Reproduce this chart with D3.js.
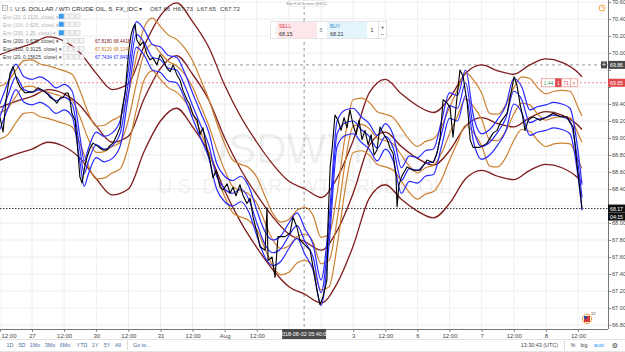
<!DOCTYPE html>
<html>
<head>
<meta charset="utf-8">
<script src="https://d3js.org/d3.v7.min.js"></script>
<style>
  body { margin: 0; background: #fff; }
  svg { display: block; font-family: "Liberation Sans", Arial, sans-serif; }
</style>
</head>
<body>
<svg width="625" height="352"></svg>
<script>
// trading hours counted from Jul 27 00:00 (weekend gap removed)
const priceTimes = [
  -12.0,-10.8,-9.7,-8.2,-7.1,-5.6,-4.5,-2.6,-0.7,0.4,
  2.2,4.1,6.0,6.7,8.2,9.3,10.5,11.6,12.7,13.5,
  14.2,14.9,16.1,16.8,17.9,18.7,19.8,20.6,21.7,22.8,
  24.3,25.4,26.5,28.0,29.1,30.3,31.8,32.9,33.6,34.8,
  35.5,36.2,37.0,37.7,38.5,39.2,40.4,41.5,43.0,44.1,
  45.2,46.7,47.8,49.0,50.4,51.6,52.7,54.2,55.3,56.4,
  57.9,59.0,60.2,61.7,62.8,63.9,65.4,66.5,67.6,68.8,
  70.3,71.4,72.9,74.0,75.1,76.2,77.7,78.8,80.3,81.5,
  82.6,84.1,85.2,87.1,87.8,88.2,89.7,90.8,91.9,94.5,
  96.4,97.5,99.0,100.1,102.0,103.9,105.0,106.5,107.6,108.7,
  110.2,110.6,111.4,112.1,113.2,114.3,115.5,116.6,117.7,118.8,
  120.0,121.1,122.2,123.3,124.4,125.6,126.7,127.8,128.9,130.0,
  131.5,132.7,133.8,134.9,136.0,136.4,137.1,138.3,140.1,142.4,
  145.0,147.6,149.9,151.3,152.5,153.6,155.1,156.2,157.3,158.8,
  159.9,161.1,162.6,163.7,164.8,167.4,170.0,172.3,173.8,174.9,
  177.5,179.4,180.1,181.2,182.4,183.1,184.2,185.4,187.2,189.8,
  192.5,194.7,197.3,199.9,201.0,202.2,203.7,204.8,205.5
];
const priceValues = [
  69.25,69.07,69.45,69.76,69.84,69.68,69.60,69.53,69.54,69.54,
  69.59,69.56,69.51,69.48,69.45,69.41,69.47,69.48,69.53,69.53,
  69.45,69.29,69.21,68.98,68.54,68.47,68.68,68.78,68.88,68.94,
  68.91,68.88,68.86,68.86,68.91,68.94,69.04,69.13,69.33,69.53,
  69.80,70.04,70.21,70.29,70.34,70.15,70.09,70.13,69.98,69.92,
  69.94,69.86,69.98,69.92,69.82,69.78,69.86,69.74,69.68,69.56,
  69.45,69.39,69.27,69.21,69.04,69.12,68.86,68.74,68.53,68.62,
  68.42,68.39,68.46,68.35,68.42,68.32,68.45,68.33,68.23,68.29,
  68.07,67.88,67.72,67.68,68.18,67.56,67.60,67.36,67.84,67.84,
  67.88,68.07,67.95,67.80,67.74,67.68,67.48,67.21,67.04,67.13,
  67.33,68.00,68.66,68.86,69.27,69.21,69.09,69.24,69.12,69.33,
  69.15,69.04,69.21,68.98,69.09,68.92,69.04,68.80,68.86,69.13,
  69.04,68.98,68.88,68.82,68.56,68.19,68.45,68.56,68.66,68.62,
  68.62,68.74,68.71,68.82,69.01,69.45,69.41,69.36,69.01,69.48,
  69.80,69.72,69.41,68.98,68.89,68.89,68.94,69.06,69.09,69.18,
  69.29,69.60,69.72,69.62,69.39,69.29,69.09,69.21,69.25,69.21,
  69.25,69.29,69.25,69.25,69.18,69.13,68.66,68.38,68.17
];

// Env (20, 0.15625) - blue
const blueTimes = [
  -12,-9,-6,-3,0,3,6,9,12,15,
  18,19.5,21,24,27,30,33,36,39,42,45,
  48,51,54,57,60,63,66,69,72,75,
  78,81,84,87,90,93,96,99,102,105,
  108,111,114,117,120,123,126,129,132,135,
  138,141,144,147,150,153,156,159,162,165,
  168,171,174,177,180,183,186,189,192,195,
  198,201,204,205.5
];
const blueMid = [
  69.25,69.50,69.72,69.57,69.54,69.57,69.52,69.44,69.48,69.40,
  68.85,68.58,68.72,68.92,68.87,68.91,69.06,69.65,70.22,70.12,69.95,
  69.92,69.82,69.80,69.62,69.38,69.15,68.92,68.55,68.40,68.35,
  68.40,68.28,68.00,67.75,67.65,67.70,67.85,67.97,67.78,67.60,
  67.18,67.90,69.05,69.18,69.20,69.10,69.02,68.88,69.02,68.88,
  68.50,68.64,68.62,68.70,68.72,69.05,69.38,69.35,69.65,69.10,
  68.90,68.95,69.07,69.23,69.55,69.45,69.18,69.22,69.24,69.27,
  69.25,69.20,68.70,68.30
];
const blueUpper = [
  69.40,69.65,69.87,69.72,69.69,69.72,69.67,69.59,69.63,69.55,
  69.00,68.73,68.87,69.07,69.02,69.06,69.21,69.80,70.37,70.27,70.10,
  70.07,69.97,69.95,69.77,69.53,69.30,69.07,68.70,68.55,68.50,
  68.55,68.43,68.15,67.90,67.80,67.85,68.00,68.12,67.93,67.75,
  67.33,68.05,69.20,69.33,69.35,69.25,69.17,69.03,69.17,69.03,
  68.65,68.79,68.77,68.85,68.87,69.20,69.53,69.50,69.80,69.25,
  69.05,69.10,69.22,69.38,69.70,69.60,69.33,69.37,69.39,69.42,
  69.40,69.35,68.85,68.45
];
const blueLower = [
  69.10,69.35,69.57,69.42,69.39,69.42,69.37,69.29,69.33,69.25,
  68.70,68.43,68.57,68.77,68.72,68.76,68.91,69.50,70.07,69.97,69.80,
  69.77,69.67,69.65,69.47,69.23,69.00,68.77,68.40,68.25,68.20,
  68.25,68.13,67.85,67.60,67.50,67.55,67.70,67.82,67.63,67.45,
  67.03,67.75,68.90,69.03,69.05,68.95,68.87,68.73,68.87,68.73,
  68.35,68.49,68.47,68.55,68.57,68.90,69.23,69.20,69.50,68.95,
  68.75,68.80,68.92,69.08,69.40,69.30,69.03,69.07,69.09,69.12,
  69.10,69.05,68.55,68.15
];

// Env (100, 0.3125) - orange, every 3h
const orangeTimes = d3.range(-12, 205, 3).concat([205.5]);
const orangeMid = [
  69.30,69.35,69.49,69.60,69.61,69.56,69.54,69.51,69.48,69.44,
  69.24,68.99,68.83,68.84,68.90,68.95,69.21,69.64,70.00,70.10,
  70.00,69.90,69.85,69.75,69.60,69.38,69.15,68.87,68.62,68.43,
  68.38,68.34,68.23,68.01,67.80,67.70,67.73,67.84,67.87,67.78,
  67.52,67.56,68.04,68.71,69.14,69.16,69.11,69.00,68.97,68.93,
  68.80,68.67,68.59,68.65,68.68,68.82,69.05,69.26,69.46,69.37,
  69.22,68.98,68.97,69.08,69.28,69.41,69.39,69.28,69.21,69.24,
  69.25,69.24,69.05,68.95
];
const orangeUpper = [
  69.61,69.66,69.80,69.91,69.92,69.87,69.85,69.82,69.79,69.75,
  69.55,69.30,69.14,69.15,69.21,69.26,69.52,69.95,70.31,70.41,
  70.31,70.21,70.16,70.06,69.91,69.69,69.46,69.18,68.93,68.74,
  68.69,68.65,68.54,68.32,68.11,68.01,68.04,68.15,68.18,68.09,
  67.83,67.87,68.35,69.02,69.45,69.47,69.42,69.31,69.28,69.24,
  69.11,68.98,68.90,68.96,68.99,69.13,69.36,69.57,69.77,69.68,
  69.53,69.29,69.28,69.39,69.59,69.72,69.70,69.59,69.52,69.55,
  69.56,69.55,69.36,69.26
];
const orangeLower = [
  68.99,69.04,69.18,69.29,69.30,69.25,69.23,69.20,69.17,69.13,
  68.93,68.68,68.52,68.53,68.59,68.64,68.90,69.33,69.69,69.79,
  69.69,69.59,69.54,69.44,69.29,69.07,68.84,68.56,68.31,68.12,
  68.07,68.03,67.92,67.70,67.49,67.39,67.42,67.53,67.56,67.47,
  67.21,67.25,67.73,68.40,68.83,68.85,68.80,68.69,68.66,68.62,
  68.49,68.36,68.28,68.34,68.37,68.51,68.74,68.95,69.15,69.06,
  68.91,68.67,68.66,68.77,68.97,69.10,69.08,68.97,68.90,68.93,
  68.94,68.93,68.74,68.64
];

// Env (200, 0.625) - maroon, every 6h
const maroonTimes = d3.range(-12, 205, 6).concat([205.5]);
const maroonMid = [
  69.36,69.43,69.49,69.57,69.52,69.38,69.14,68.95,69.02,69.47,
  69.82,69.97,69.75,69.45,69.00,68.63,68.33,68.07,67.87,67.78,
  67.68,67.91,68.35,68.91,69.07,68.90,68.76,68.68,68.85,69.14,
  69.24,69.17,69.13,69.24,69.31,69.27,69.15,69.10
];
const maroonUpper = [
  69.98,70.05,70.11,70.19,70.14,70.00,69.76,69.57,69.64,70.09,
  70.44,70.59,70.37,70.07,69.62,69.25,68.95,68.69,68.49,68.40,
  68.30,68.53,68.97,69.53,69.69,69.52,69.38,69.30,69.47,69.76,
  69.86,69.79,69.75,69.86,69.93,69.89,69.77,69.72
];
const maroonLower = [
  68.74,68.81,68.87,68.95,68.90,68.76,68.52,68.33,68.40,68.85,
  69.20,69.35,69.13,68.83,68.38,68.01,67.71,67.45,67.25,67.16,
  67.06,67.29,67.73,68.29,68.45,68.28,68.14,68.06,68.23,68.52,
  68.62,68.55,68.51,68.62,68.69,68.65,68.53,68.48
];

const timeTicks = d3.range(-12, 205, 12);
const timeLabels = ["12:00","27","12:00","30","12:00","31","12:00","Aug","12:00","2",
                    "12:00","3","12:00","6","12:00","7","12:00","8","12:00"];
const priceTicks = d3.range(0, 20).map(i => 66.8 + i * 0.2);

const legendRows = [
  {name: "Env (20, 0.3125, close)", hidden: true},
  {name: "Env (100, 0.625, close)", hidden: true},
  {name: "Env (200, 1.25, close)", hidden: true},
  {name: "Env (200, 0.625, close)", values: ["67.8180", "68.4418"], color: "#7f1d1d"},
  {name: "Env (100, 0.3125, close)", values: ["67.8129", "68.1249"], color: "#cc8030"},
  {name: "Env (20, 0.15625, close)", values: ["67.7434", "67.8492"], color: "#2a2aff"}
];
const ohlc = ["O67.66", "H67.73", "L67.65", "C67.72"];
const lastPrice = 68.17;
const crossTime = 101.67, crossPrice = 69.86, orderPrice = 69.65;

const svg = d3.select("svg");
const plotW = 608, plotH = 329;
const x = d3.scaleLinear().domain([0, 204]).range([32, 578]);
const y = d3.scaleLinear().domain([66.8, 70.6]).range([325, 2]);

svg.append("defs").append("clipPath").attr("id", "plot")
  .append("rect").attr("width", plotW).attr("height", plotH);

// grid
const grid = svg.append("g");
grid.selectAll(".gv").data(timeTicks).join("line")
  .attr("x1", d => x(d)).attr("x2", d => x(d)).attr("y1", 0).attr("y2", plotH)
  .attr("stroke", "#eeeeee");
grid.selectAll(".gh").data(priceTicks).join("line")
  .attr("x1", 0).attr("x2", plotW).attr("y1", d => y(d)).attr("y2", d => y(d))
  .attr("stroke", "#eeeeee");

// watermark
svg.append("text").text("USDWTI, 5")
  .attr("x", plotW / 2).attr("y", 163).attr("text-anchor", "middle")
  .attr("font-size", 42).attr("fill", "#000").attr("fill-opacity", 0.07);
svg.append("text").text("U.S. DOLLAR / WTI CRUDE OIL")
  .attr("x", plotW / 2).attr("y", 193).attr("text-anchor", "middle")
  .attr("font-size", 20).attr("fill", "#000").attr("fill-opacity", 0.07);

// helper lines
const g = svg.append("g").attr("clip-path", "url(#plot)");
g.append("line").attr("x1", 0).attr("x2", plotW).attr("y1", y(orderPrice)).attr("y2", y(orderPrice))
  .attr("stroke", "#f08a8a").attr("stroke-dasharray", "2,2");
g.append("line").attr("x1", 0).attr("x2", plotW).attr("y1", y(crossPrice)).attr("y2", y(crossPrice))
  .attr("stroke", "#9a9a9a").attr("stroke-dasharray", "3,3");
g.append("line").attr("x1", x(crossTime)).attr("x2", x(crossTime)).attr("y1", 0).attr("y2", plotH)
  .attr("stroke", "#9a9a9a").attr("stroke-dasharray", "3,3");

function drawLine(times, values, color, width, curve) {
  const line = d3.line().x((d, i) => x(times[i])).y(d => y(d)).curve(curve);
  g.append("path").datum(values).attr("d", line)
    .attr("fill", "none").attr("stroke", color).attr("stroke-width", width)
    .attr("stroke-linejoin", "round");
}
const smooth = d3.curveMonotoneX;
[maroonUpper, maroonMid, maroonLower].forEach(v => drawLine(maroonTimes, v, "#7f1d1d", 1.3, smooth));
[orangeUpper, orangeMid, orangeLower].forEach(v => drawLine(orangeTimes, v, "#cc8030", 1.2, smooth));
[blueUpper, blueMid, blueLower].forEach(v => drawLine(blueTimes, v, "#2a2aff", 1.2, smooth));
drawLine(priceTimes, priceValues, "#000", 1.1, d3.curveLinear);

g.append("line").attr("x1", 0).attr("x2", plotW).attr("y1", y(lastPrice)).attr("y2", y(lastPrice))
  .attr("stroke", "#333").attr("stroke-dasharray", "1.5,1.5");

// time axis (labels under the crosshair tag are hidden, as on the chart)
const crossX = x(crossTime);
const xAxisG = svg.append("g").attr("transform", `translate(0,${plotH})`)
  .call(d3.axisBottom(x).tickValues(timeTicks).tickFormat((d, i) => timeLabels[i]).tickSize(3).tickSizeOuter(0));
xAxisG.select(".domain").remove();
xAxisG.selectAll(".tick line").attr("stroke", "#888");
xAxisG.selectAll(".tick text").attr("font-size", 6).attr("fill", "#444").attr("dy", "0.5em")
  .attr("font-family", "Liberation Sans, Arial, sans-serif")
  .attr("display", d => Math.abs(x(d) - crossX) < 34 ? "none" : null)
  .attr("text-anchor", d => x(d) < 8 ? "start" : "middle")
  .attr("x", d => x(d) < 8 ? 1 - x(d) : 0);
svg.append("line").attr("x1", 0).attr("x2", plotW).attr("y1", plotH + 0.5).attr("y2", plotH + 0.5).attr("stroke", "#777");

// price axis (labels under the tags are hidden)
const tagPrices = [crossPrice, orderPrice, lastPrice];
const yAxisG = svg.append("g").attr("transform", `translate(${plotW},0)`)
  .call(d3.axisRight(y).tickValues(priceTicks).tickFormat(d3.format(".2f")).tickSize(3).tickSizeOuter(0));
yAxisG.select(".domain").remove();
yAxisG.selectAll(".tick line").attr("stroke", "#888");
yAxisG.selectAll(".tick text").attr("font-size", 5.6).attr("fill", "#444").attr("x", 4)
  .attr("font-family", "Liberation Sans, Arial, sans-serif")
  .attr("display", d => tagPrices.some(p => Math.abs(y(p) - y(d)) < 8) ? "none" : null);
svg.append("line").attr("x1", plotW + 0.5).attr("x2", plotW + 0.5).attr("y1", 0).attr("y2", plotH).attr("stroke", "#777");

// price tags on the axis
function tag(v, text, fill, dy) {
  const cy = y(v) + (dy || 0);
  svg.append("rect").attr("x", plotW).attr("y", cy - 4).attr("width", 17).attr("height", 8).attr("fill", fill);
  svg.append("text").text(text).attr("x", plotW + 8.5).attr("y", cy + 2)
    .attr("text-anchor", "middle").attr("font-size", 5.2).attr("fill", "#fff");
}
tag(crossPrice, "69.86", "#4a4a4a");
tag(orderPrice, "69.65", "#e0474c");
tag(lastPrice, "68.17", "#111");
tag(lastPrice, "04:15", "#111", 8);
svg.append("rect").attr("x", plotW - 7).attr("y", y(crossPrice) - 3.5).attr("width", 6).attr("height", 7).attr("fill", "#4a4a4a");
svg.append("text").text("+").attr("x", plotW - 4).attr("y", y(crossPrice) + 2.5).attr("text-anchor", "middle")
  .attr("font-size", 7).attr("fill", "#fff");

// order line widget
const oy = y(orderPrice);
const orderBoxes = [
  {x: 541, w: 14, t: "1.44", fill: "#fff", tc: "#2e9e4f", stroke: "#f08a8a"},
  {x: 555, w: 6, t: "1", fill: "#e0474c", tc: "#fff", stroke: "#e0474c"},
  {x: 561, w: 9, t: "71", fill: "#fff", tc: "#e0474c", stroke: "#f08a8a"},
  {x: 570, w: 7, t: "\u00d7", fill: "#fff", tc: "#e0474c", stroke: "#f08a8a"}
];
orderBoxes.forEach(b => {
  svg.append("rect").attr("x", b.x + 0.5).attr("y", oy - 4).attr("width", b.w).attr("height", 8)
    .attr("fill", b.fill).attr("stroke", b.stroke).attr("stroke-width", 0.7);
  svg.append("text").text(b.t).attr("x", b.x + b.w / 2 + 0.5).attr("y", oy + 2)
    .attr("text-anchor", "middle").attr("font-size", 5).attr("fill", b.tc);
});

// crosshair time tag
svg.append("rect").attr("x", crossX - 22).attr("y", plotH).attr("width", 44).attr("height", 10).attr("fill", "#4a4a4a");
svg.append("text").text("2018-08-02 05:40:00").attr("x", crossX).attr("y", plotH + 7)
  .attr("text-anchor", "middle").attr("font-size", 5.4).attr("fill", "#fff");

// header legend
svg.append("rect").attr("x", 2.5).attr("y", 5.5).attr("width", 5).attr("height", 5).attr("fill", "none").attr("stroke", "#888").attr("stroke-width", 0.6);
svg.append("line").attr("x1", 3.5).attr("x2", 6.5).attr("y1", 8).attr("y2", 8).attr("stroke", "#888").attr("stroke-width", 0.6);
svg.append("text").text("\u2261").attr("x", 9.5).attr("y", 10.5).attr("font-size", 6).attr("fill", "#999");
svg.append("text").text("U.S. DOLLAR / WTI CRUDE OIL, 5, FX_IDC \u25be").attr("x", 15).attr("y", 10.5)
  .attr("font-size", 6.2).attr("fill", "#333");
const ohlcX = [150, 173, 197, 220];
ohlc.forEach((t, i) => svg.append("text").text(t).attr("x", ohlcX[i]).attr("y", 10.5)
  .attr("font-size", 6.2).attr("fill", "#444"));

const rowY = [16.5, 24.5, 33, 41, 49, 57];
legendRows.forEach((r, i) => {
  const cy = rowY[i];
  svg.append("text").text(r.name + " \u25be").attr("x", 3).attr("y", cy + 2)
    .attr("font-size", 5).attr("fill", r.hidden ? "#b4b4b4" : "#3a3a3a");
  const bx = r.hidden ? 59 : 63;
  for (let k = 0; k < 4; k++) {
    const first = r.hidden && k === 0;
    svg.append("rect").attr("x", bx + k * 5.5).attr("y", cy - 2.5).attr("width", 4.6).attr("height", 4.6)
      .attr("fill", first ? "#3d9be9" : "#f4f4f4").attr("stroke", first ? "#3d9be9" : "#c8c8c8").attr("stroke-width", 0.5);
  }
  if (r.values) {
    r.values.forEach((v, j) => svg.append("text").text(v).attr("x", 95 + j * 18.5).attr("y", cy + 2)
      .attr("font-size", 4.7).attr("fill", r.color));
  }
});

// exit full screen hint
svg.append("rect").attr("x", 289.5).attr("y", 0.5).attr("width", 34).attr("height", 6).attr("fill", "#fff").attr("stroke", "#ddd").attr("stroke-width", 0.5);
svg.append("text").text("Exit Full Screen (ESC)").attr("x", 306.5).attr("y", 5).attr("text-anchor", "middle")
  .attr("font-size", 4).attr("fill", "#888");

// buy / sell panel
const panel = svg.append("g");
panel.append("rect").attr("x", 270.5).attr("y", 21.5).attr("width", 116).attr("height", 17)
  .attr("fill", "#fff").attr("stroke", "#d9d9d9").attr("stroke-width", 0.7);
panel.append("rect").attr("x", 277).attr("y", 22).attr("width", 40).attr("height", 16).attr("fill", "#fde7ea");
panel.append("rect").attr("x", 327).attr("y", 22).attr("width", 40).attr("height", 16).attr("fill", "#e4f4fb");
panel.append("text").text("\u22ee").attr("x", 273).attr("y", 32).attr("font-size", 6).attr("fill", "#bbb");
panel.append("text").text("SELL").attr("x", 279).attr("y", 28).attr("font-size", 5).attr("fill", "#e0474c");
panel.append("text").text("68.15").attr("x", 279).attr("y", 35.5).attr("font-size", 5.4).attr("fill", "#333");
panel.append("text").text("5").attr("x", 321).attr("y", 32).attr("font-size", 5.4).attr("fill", "#777").attr("text-anchor", "middle");
panel.append("text").text("BUY").attr("x", 330).attr("y", 28).attr("font-size", 5).attr("fill", "#2a8ad4");
panel.append("text").text("68.21").attr("x", 330).attr("y", 35.5).attr("font-size", 5.4).attr("fill", "#333");
panel.append("text").text("1").attr("x", 372).attr("y", 32).attr("font-size", 5.4).attr("fill", "#333").attr("text-anchor", "middle");
panel.append("line").attr("x1", 378.5).attr("x2", 378.5).attr("y1", 22).attr("y2", 38).attr("stroke", "#e2e2e2");
panel.append("text").text("+").attr("x", 382.5).attr("y", 28.5).attr("font-size", 6).attr("fill", "#333").attr("text-anchor", "middle");
panel.append("text").text("\u2212").attr("x", 382.5).attr("y", 36).attr("font-size", 6).attr("fill", "#333").attr("text-anchor", "middle");

// small icons
svg.append("circle").attr("cx", 602).attr("cy", 8).attr("r", 3).attr("fill", "none").attr("stroke", "#f39c32").attr("stroke-width", 0.9);
svg.append("path").attr("d", "M602,6.2V8H603.5").attr("fill", "none").attr("stroke", "#f39c32").attr("stroke-width", 0.7);
svg.append("circle").attr("cx", 587).attr("cy", 319).attr("r", 4.6).attr("fill", "#fff").attr("stroke", "#f3a23a").attr("stroke-width", 1);
svg.append("rect").attr("x", 584).attr("y", 316).attr("width", 6).attr("height", 6).attr("fill", "#d83a3a");
svg.append("rect").attr("x", 584).attr("y", 316).attr("width", 3).attr("height", 3).attr("fill", "#2c4aa8");
svg.append("text").text("12").attr("x", 591).attr("y", 315).attr("font-size", 4).attr("fill", "#333");

// bottom toolbar
svg.append("line").attr("x1", 0).attr("x2", 625).attr("y1", 339.5).attr("y2", 339.5).attr("stroke", "#e3e3e3");
svg.append("line").attr("x1", 0).attr("x2", 625).attr("y1", 351.5).attr("y2", 351.5).attr("stroke", "#e3e3e3");
const ranges = ["1D", "5D", "1Mo", "3Mo", "6Mo", "YTD", "1Y", "5Y", "All"];
const rangeX = [10, 22, 35, 50, 65, 82, 95, 107, 118];
ranges.forEach((t, i) => svg.append("text").text(t).attr("x", rangeX[i]).attr("y", 346.5)
  .attr("text-anchor", "middle").attr("font-size", 5.4).attr("fill", "#4a6fa5"));
svg.append("line").attr("x1", 127.5).attr("x2", 127.5).attr("y1", 341).attr("y2", 350).attr("stroke", "#ddd");
svg.append("text").text("Go to...").attr("x", 133).attr("y", 346.5).attr("font-size", 5.4).attr("fill", "#4a6fa5");
svg.append("text").text("13:30:43 (UTC)").attr("x", 558).attr("y", 346.5).attr("text-anchor", "end")
  .attr("font-size", 5.4).attr("fill", "#444");
svg.append("line").attr("x1", 564.5).attr("x2", 564.5).attr("y1", 341).attr("y2", 350).attr("stroke", "#ddd");
svg.append("text").text("%").attr("x", 573).attr("y", 346.5).attr("text-anchor", "middle").attr("font-size", 5.4).attr("fill", "#444");
svg.append("text").text("log").attr("x", 584).attr("y", 346.5).attr("text-anchor", "middle").attr("font-size", 5.4).attr("fill", "#444");
svg.append("text").text("auto").attr("x", 599).attr("y", 346.5).attr("text-anchor", "middle").attr("font-size", 5.4).attr("fill", "#2196f3");
svg.append("text").text("\u2699").attr("x", 615).attr("y", 347.5).attr("text-anchor", "middle").attr("font-size", 7)
  .attr("font-family", "DejaVu Sans").attr("fill", "#444");
</script>
</body>
</html>
